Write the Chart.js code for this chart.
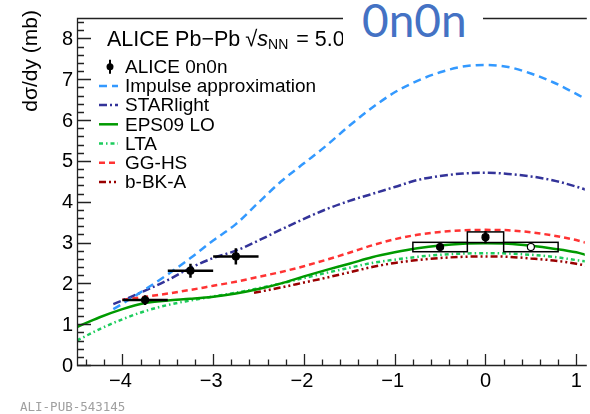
<!DOCTYPE html>
<html>
<head>
<meta charset="utf-8">
<script src="https://cdn.jsdelivr.net/npm/chart.js@4.4.1/dist/chart.umd.min.js"></script>
<style>
  html, body { margin: 0; padding: 0; background: #fff; }
  #wrap { position: relative; width: 590px; height: 414px; overflow: hidden; }
  #tag { position: absolute; left: 343px; top: 0; width: 140px; height: 48px; background: #fff; }
  #tag span { position: absolute; left: 19px; top: -3px; font: 46px/1 Lato, "Open Sans", sans-serif; color: #4472c4; }
  #pub { position: absolute; left: 20px; top: 401px; font: 12.5px/1 "DejaVu Sans Mono", monospace; color: #a0a0a0; }
</style>
</head>
<body>
<div id="wrap">
  <canvas id="c" width="590" height="414"></canvas>
  <div id="tag"><span>0n0n</span></div>
  <div id="pub">ALI-PUB-543145</div>
</div>
<script>
// ALICE 0n0n cross section, with stat. errors and mid-rapidity systematic boxes
const aliceX = [-3.75, -3.25, -2.75, -0.5, 0, 0.5];
const aliceY = [1.59, 2.31, 2.66, 2.89, 3.13, 2.89];
const aliceStat = [0.12, 0.17, 0.2, 0.12, 0.15, 0.12];
const aliceBinHalf = [0.25, 0.25, 0.25, 0, 0, 0];
const aliceSys = [0, 0, 0, 0.115, 0.13, 0.115];
const aliceSysHalf = [0, 0, 0, 0.3, 0.2, 0.3];
const aliceOpen = [false, false, false, false, false, true];

// model curves, dsigma/dy vs y
const impulseX = [-4.1, -4.0, -3.75, -3.5, -3.25, -3.0, -2.75, -2.5, -2.25, -2.0, -1.75, -1.5, -1.25, -1.0, -0.75, -0.5, -0.25, 0, 0.25, 0.5, 0.75, 1.0, 1.1];
const impulseY = [1.37, 1.5, 1.85, 2.22, 2.62, 3.05, 3.45, 3.98, 4.5, 4.94, 5.38, 5.86, 6.3, 6.68, 6.96, 7.17, 7.31, 7.35, 7.3, 7.14, 6.92, 6.64, 6.52];

const starlightX = impulseX;
const starlightY = [1.49, 1.58, 1.82, 2.08, 2.38, 2.62, 2.8, 3.05, 3.32, 3.58, 3.82, 4.02, 4.19, 4.36, 4.53, 4.63, 4.69, 4.71, 4.68, 4.62, 4.52, 4.37, 4.3];

const fullX = [-4.5, -4.25, -4.0, -3.75, -3.5, -3.25, -3.0, -2.75, -2.5, -2.25, -2.0, -1.75, -1.5, -1.25, -1.0, -0.75, -0.5, -0.25, 0, 0.25, 0.5, 0.75, 1.0, 1.1];
const eps09Y = [0.93, 1.17, 1.37, 1.52, 1.58, 1.62, 1.67, 1.75, 1.86, 2.0, 2.17, 2.33, 2.48, 2.64, 2.76, 2.86, 2.93, 2.97, 2.98, 2.97, 2.92, 2.85, 2.76, 2.7];
const ltaY = [0.6, 0.88, 1.12, 1.32, 1.47, 1.58, 1.68, 1.77, 1.88, 2.0, 2.13, 2.26, 2.38, 2.5, 2.58, 2.65, 2.7, 2.73, 2.74, 2.73, 2.7, 2.65, 2.57, 2.54];

const gghsX = [-4.0, -3.75, -3.5, -3.25, -3.0, -2.75, -2.5, -2.25, -2.0, -1.75, -1.5, -1.25, -1.0, -0.75, -0.5, -0.25, 0, 0.25, 0.5, 0.75, 1.0, 1.1];
const gghsY = [1.6, 1.67, 1.75, 1.84, 1.94, 2.04, 2.16, 2.28, 2.42, 2.58, 2.75, 2.93, 3.08, 3.19, 3.26, 3.3, 3.31, 3.3, 3.25, 3.17, 3.06, 3.0];

const bbkX = [-2.55, -2.25, -2.0, -1.75, -1.5, -1.25, -1.0, -0.75, -0.5, -0.25, 0, 0.25, 0.5, 0.75, 1.0, 1.1];
const bbkY = [1.77, 1.9, 2.02, 2.14, 2.27, 2.4, 2.5, 2.57, 2.62, 2.65, 2.66, 2.65, 2.61, 2.56, 2.48, 2.44];

// axes
const xTicks = [-4, -3, -2, -1, 0, 1];
const yTicks = [0, 1, 2, 3, 4, 5, 6, 7, 8];

const FONT = '"Liberation Sans", Arial, sans-serif';
const MINUS = '\u2212';

const pts = (xs, ys) => xs.map((x, i) => ({ x, y: ys[i] }));

function model(label, xs, ys, color, dash) {
    return {
        label,
        data: pts(xs, ys),
        showLine: true,
        borderColor: color,
        borderWidth: 2.5,
        borderDash: dash,
        pointRadius: 0,
        cubicInterpolationMode: 'monotone',
        fill: false,
        order: 2
    };
}

// error bars and systematic boxes, drawn just under the data markers
const errorBars = {
    id: 'errorBars',
    beforeDatasetDraw(chart, args) {
        const ds = chart.data.datasets[args.index];
        if (!ds.errors) return;
        const { ctx, scales: { x, y } } = chart;
        const e = ds.errors;
        ctx.save();
        ctx.strokeStyle = '#000';
        ds.data.forEach((p, i) => {
            const px = x.getPixelForValue(p.x), py = y.getPixelForValue(p.y);
            if (e.sys[i] > 0) {
                ctx.lineWidth = 1.5;
                const l = x.getPixelForValue(p.x - e.sysHalf[i]), r = x.getPixelForValue(p.x + e.sysHalf[i]);
                const t = y.getPixelForValue(p.y + e.sys[i]), b = y.getPixelForValue(p.y - e.sys[i]);
                ctx.strokeRect(l, t, r - l, b - t);
            }
            ctx.lineWidth = 2.5;
            ctx.beginPath();
            if (e.binHalf[i] > 0) {
                ctx.moveTo(x.getPixelForValue(p.x - e.binHalf[i]), py);
                ctx.lineTo(x.getPixelForValue(p.x + e.binHalf[i]), py);
            }
            ctx.moveTo(px, y.getPixelForValue(p.y + e.stat[i]));
            ctx.lineTo(px, y.getPixelForValue(p.y - e.stat[i]));
            ctx.stroke();
        });
        ctx.restore();
    }
};

// ROOT style frame with inward ticks, labels and axis title
const rootFrame = {
    id: 'rootFrame',
    afterDraw(chart) {
        const { ctx, chartArea: a, scales: { x, y } } = chart;
        ctx.save();
        ctx.strokeStyle = '#222';
        ctx.lineWidth = 1.3;
        ctx.beginPath();
        ctx.moveTo(a.right + 2, a.top + 0.5);
        ctx.lineTo(a.left + 0.5, a.top + 0.5);
        ctx.lineTo(a.left + 0.5, a.bottom + 0.5);
        ctx.lineTo(a.right + 2, a.bottom + 0.5);
        ctx.stroke();

        ctx.beginPath();
        for (let k = 0; k <= 42; k++) {
            const py = Math.round(y.getPixelForValue(k / 5)) + 0.5;
            const len = k % 5 === 0 ? 14 : 7;
            ctx.moveTo(a.left, py);
            ctx.lineTo(a.left + len, py);
        }
        for (let k = -22; k <= 5; k++) {
            const px = Math.round(x.getPixelForValue(k / 5)) + 0.5;
            const len = k % 5 === 0 ? 11 : 5.5;
            ctx.moveTo(px, a.bottom);
            ctx.lineTo(px, a.bottom - len);
        }
        ctx.stroke();

        ctx.fillStyle = '#000';
        ctx.font = '20px ' + FONT;
        ctx.textAlign = 'right';
        ctx.textBaseline = 'middle';
        yTicks.forEach(v => ctx.fillText(String(v), a.left - 4, y.getPixelForValue(v) + 1));
        ctx.textAlign = 'center';
        xTicks.forEach(v => {
            const s = v < 0 ? MINUS + Math.abs(v) : String(v);
            ctx.fillText(s, x.getPixelForValue(v) - (v < 0 ? 2 : 0), a.bottom + 16);
        });

        ctx.translate(31, 10);
        ctx.rotate(-Math.PI / 2);
        ctx.textAlign = 'right';
        ctx.font = '21px ' + FONT;
        ctx.fillText('d\u03c3/dy (mb)', 0, 0);
        ctx.restore();
    }
};

// legend box in the upper left of the frame
const rootLegend = {
    id: 'rootLegend',
    afterDatasetsDraw(chart) {
        const { ctx } = chart;
        ctx.save();
        ctx.fillStyle = '#000';
        ctx.textBaseline = 'middle';
        ctx.textAlign = 'left';

        // header: ALICE Pb-Pb sqrt(s_NN) = 5.02 TeV
        let hx = 107, hy = 40;
        ctx.font = '21.5px ' + FONT;
        const head = 'ALICE Pb' + MINUS + 'Pb';
        ctx.fillText(head, hx, hy);
        hx += ctx.measureText(head).width + 5;
        ctx.font = '22px ' + FONT;
        ctx.fillText('\u221a', hx, hy);
        hx += ctx.measureText('\u221a').width;
        ctx.font = 'italic 21.5px ' + FONT;
        ctx.fillText('s', hx, hy);
        hx += ctx.measureText('s').width;
        ctx.font = '14px ' + FONT;
        ctx.fillText('NN', hx, hy + 5);
        hx += ctx.measureText('NN').width + 2;
        ctx.font = '21.5px ' + FONT;
        ctx.fillText(' = 5.02 TeV', hx, hy);

        ctx.font = '19px ' + FONT;
        chart.data.datasets.forEach((ds, i) => {
            const ly = 66.7 + i * 19.2;
            if (ds.errors) {
                ctx.strokeStyle = '#000';
                ctx.lineWidth = 2;
                ctx.beginPath();
                ctx.moveTo(110, ly - 7);
                ctx.lineTo(110, ly + 7);
                ctx.stroke();
                ctx.beginPath();
                ctx.arc(110, ly, 3.5, 0, Math.PI * 2);
                ctx.fill();
            } else {
                ctx.strokeStyle = ds.borderColor;
                ctx.lineWidth = ds.borderWidth;
                ctx.setLineDash(ds.borderDash || []);
                ctx.beginPath();
                ctx.moveTo(99, ly);
                ctx.lineTo(118, ly);
                ctx.stroke();
                ctx.setLineDash([]);
            }
            ctx.fillStyle = '#000';
            ctx.fillText(ds.label, 125, ly + 1);
        });
        ctx.restore();
    }
};

const alice = {
    label: 'ALICE 0n0n',
    data: pts(aliceX, aliceY),
    showLine: false,
    pointRadius: 3.5,
    pointBorderWidth: 1.2,
    pointBorderColor: '#000',
    pointBackgroundColor: aliceOpen.map(o => o ? '#fff' : '#000'),
    errors: { stat: aliceStat, binHalf: aliceBinHalf, sys: aliceSys, sysHalf: aliceSysHalf },
    order: 0
};

new Chart(document.getElementById('c'), {
    type: 'scatter',
    data: {
        datasets: [
            alice,
            model('Impulse approximation', impulseX, impulseY, '#3399ff', [8, 5]),
            model('STARlight', starlightX, starlightY, '#333399', [8, 3, 2, 3]),
            model('EPS09 LO', fullX, eps09Y, '#009a00', []),
            model('LTA', fullX, ltaY, '#1ccc5c', [4, 3, 1.5, 3]),
            model('GG-HS', gghsX, gghsY, '#ff3333', [6, 4]),
            model('b-BK-A', bbkX, bbkY, '#990000', [7, 3, 2, 3, 2, 3])
        ]
    },
    options: {
        responsive: false,
        animation: false,
        devicePixelRatio: 1,
        layout: { padding: { left: 77, top: 18, right: 0, bottom: 49 } },
        scales: {
            x: { type: 'linear', min: -4.5, max: 1.094, display: false },
            y: { type: 'linear', min: 0, max: 8.5, display: false }
        },
        plugins: { legend: { display: false }, tooltip: { enabled: false } }
    },
    plugins: [errorBars, rootFrame, rootLegend]
});
</script>
</body>
</html>
